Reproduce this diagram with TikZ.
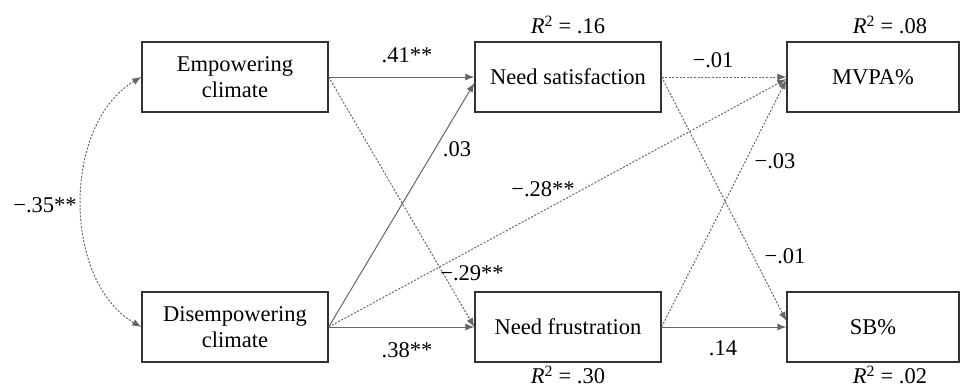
\documentclass[tikz,border=0pt]{standalone}
\usepackage{fontspec}
\setmainfont{Liberation Serif}
\newfontfamily\tms{Liberation Serif}
\usetikzlibrary{arrows.meta}
\begin{document}
\begin{tikzpicture}[x=1pt,y=-1pt,
  box/.style={draw=black!80,line width=1.3pt,minimum height=70pt,inner sep=0pt,align=center,font=\tms\fontsize{22.5}{26}\selectfont},
  lbl/.style={font=\tms\fontsize{22.5}{26}\selectfont,inner sep=0pt},
  conn/.style={draw=black!60,line width=1pt,-{Latex[length=9pt,width=7pt]}},
  dots/.style={dash pattern=on 2pt off 1.6pt}]
\useasboundingbox (0,0) rectangle (961,388);
\node[box,minimum width=186pt] (emp) at (235,77) {Empowering\\climate};
\node[box,minimum width=186pt] (dis) at (235,327) {Disempowering\\climate};
\node[box,minimum width=186pt] (ns) at (568,77) {Need satisfaction};
\node[box,minimum width=186pt] (nf) at (568,327) {Need frustration};
\node[box,minimum width=172pt] (mv) at (873,77) {MVPA\%};
\node[box,minimum width=172pt] (sb) at (873,327) {SB\%};
% R2
\node[lbl] (r1) at (568,25) {\textit{R}\textsuperscript{2} = .16};
\node[lbl] (r2) at (890,25) {\textit{R}\textsuperscript{2} = .08};
\node[lbl] (r3) at (568,375) {\textit{R}\textsuperscript{2} = .30};
\node[lbl] (r4) at (890,375) {\textit{R}\textsuperscript{2} = .02};
% connectors
\draw[conn] (emp.east) -- (ns.west);
\draw[conn,dots] (emp.east) -- (nf.west);
\draw[conn] (dis.east) -- ([yshift=-6pt]ns.west);
\draw[conn,dots] (dis.east) -- ([yshift=-2pt]mv.west);
\draw[conn] (dis.east) -- (nf.west);
\draw[conn,dots] (ns.east) -- (mv.west);
\draw[conn,dots] (ns.east) -- ([yshift=6pt]sb.west);
\draw[conn,dots] (nf.east) -- ([yshift=-3pt]mv.west);
\draw[conn] (nf.east) -- (sb.west);
\draw[conn,dots,{Latex[length=9pt,width=7pt]}-{Latex[length=9pt,width=7pt]}] (emp.west) .. controls (62,124) and (62,281) .. (dis.west);
% labels
\node[lbl] (l1) at (407,55) {.41**};
\node[lbl] (l2) at (407,350) {.38**};
\node[lbl] (l3) at (457,149) {.03};
\node[lbl] (l4) at (543,189) {−.28**};
\node[lbl] (l5) at (472,273) {−.29**};
\node[lbl] (l6) at (713,60) {−.01};
\node[lbl] (l7) at (775,161) {−.03};
\node[lbl] (l8) at (785,256) {−.01};
\node[lbl] (l9) at (723,348) {.14};
\node[lbl] (l10) at (45,205) {−.35**};
\end{tikzpicture}
\end{document}
